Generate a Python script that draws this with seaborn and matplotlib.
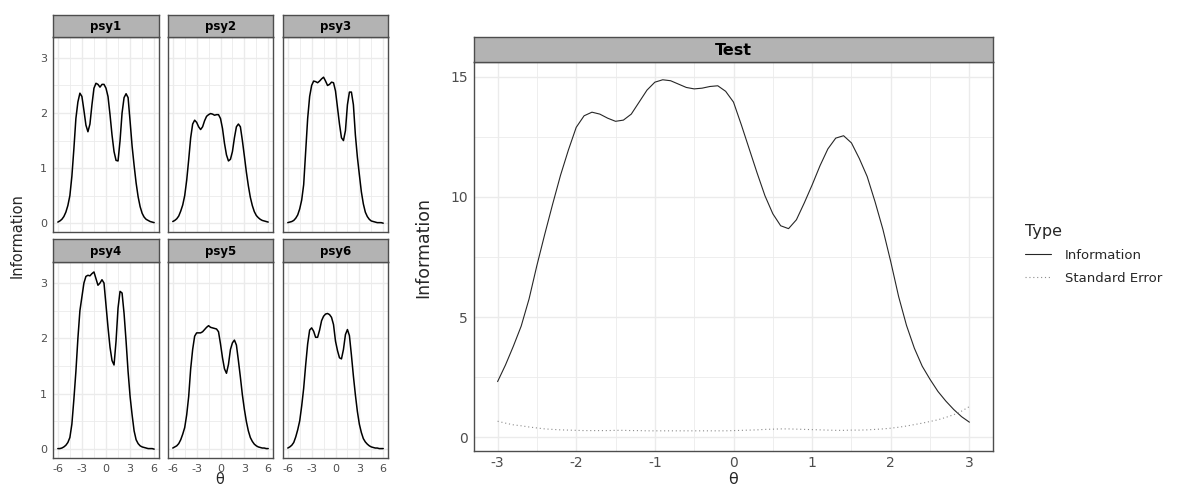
import numpy as np
import pandas as pd
import matplotlib
matplotlib.use('Agg')
import matplotlib.pyplot as plt
import seaborn as sns

# item information curves (theta -6..6, step 0.25)
items = ['psy1', 'psy2', 'psy3', 'psy4', 'psy5', 'psy6']
theta_items = np.linspace(-6, 6, 49)

psy1 = [0.02, 0.04, 0.07, 0.12, 0.20, 0.32, 0.50, 0.85, 1.35, 1.90, 2.20, 2.36, 2.30,
        2.05, 1.78, 1.66, 1.80, 2.15, 2.45, 2.54, 2.52, 2.47, 2.52, 2.52, 2.45,
        2.30, 1.97, 1.60, 1.30, 1.14, 1.13, 1.50, 2.00, 2.28, 2.35, 2.28, 1.85,
        1.40, 1.05, 0.73, 0.48, 0.30, 0.18, 0.11, 0.07, 0.05, 0.03, 0.02, 0.01]
psy2 = [0.03, 0.05, 0.08, 0.13, 0.22, 0.33, 0.50, 0.78, 1.15, 1.55, 1.80, 1.87, 1.83,
        1.75, 1.70, 1.75, 1.86, 1.94, 1.97, 1.99, 1.98, 1.96, 1.97, 1.97, 1.90,
        1.72, 1.45, 1.24, 1.13, 1.16, 1.30, 1.55, 1.75, 1.80, 1.75, 1.50, 1.22,
        0.93, 0.68, 0.47, 0.32, 0.21, 0.14, 0.10, 0.07, 0.05, 0.04, 0.03, 0.02]
psy3 = [0.01, 0.02, 0.03, 0.05, 0.09, 0.15, 0.26, 0.42, 0.70, 1.30, 1.90, 2.30, 2.50,
        2.58, 2.57, 2.55, 2.58, 2.62, 2.65, 2.58, 2.50, 2.52, 2.56, 2.55, 2.40,
        2.10, 1.80, 1.55, 1.50, 1.68, 2.15, 2.38, 2.38, 2.15, 1.60, 1.20, 0.88,
        0.57, 0.35, 0.20, 0.12, 0.07, 0.04, 0.03, 0.02, 0.01, 0.01, 0.01, 0.00]
psy4 = [0.01, 0.01, 0.02, 0.04, 0.07, 0.12, 0.21, 0.45, 0.90, 1.40, 2.00, 2.50, 2.75,
        3.00, 3.12, 3.14, 3.13, 3.17, 3.20, 3.08, 2.96, 3.00, 3.06, 3.00, 2.60,
        2.20, 1.84, 1.60, 1.52, 1.95, 2.55, 2.85, 2.82, 2.45, 1.95, 1.40, 0.95,
        0.62, 0.33, 0.17, 0.10, 0.06, 0.04, 0.03, 0.02, 0.01, 0.01, 0.01, 0.00]
psy5 = [0.02, 0.04, 0.06, 0.10, 0.17, 0.27, 0.39, 0.62, 0.95, 1.45, 1.80, 2.04, 2.10,
        2.10, 2.10, 2.12, 2.16, 2.20, 2.23, 2.20, 2.19, 2.18, 2.17, 2.12, 1.90,
        1.65, 1.45, 1.37, 1.53, 1.80, 1.92, 1.97, 1.88, 1.60, 1.30, 0.98, 0.72,
        0.50, 0.33, 0.21, 0.14, 0.09, 0.06, 0.04, 0.03, 0.02, 0.02, 0.01, 0.01]
psy6 = [0.02, 0.04, 0.07, 0.12, 0.22, 0.35, 0.51, 0.78, 1.10, 1.52, 1.90, 2.15, 2.19,
        2.13, 2.02, 2.02, 2.15, 2.32, 2.40, 2.44, 2.45, 2.43, 2.38, 2.25, 1.95,
        1.78, 1.65, 1.63, 1.80, 2.07, 2.16, 2.05, 1.70, 1.32, 0.98, 0.68, 0.45,
        0.30, 0.19, 0.13, 0.09, 0.06, 0.04, 0.03, 0.02, 0.02, 0.01, 0.01, 0.01]

# test information and standard error (theta -3..3, step 0.1)
theta_test = np.round(np.linspace(-3, 3, 61), 2)
test_info = [2.31, 3.00, 3.78, 4.62, 5.75, 7.15, 8.45, 9.70, 10.90, 11.95, 12.90,
             13.38, 13.53, 13.45, 13.28, 13.15, 13.20, 13.45, 13.95, 14.45, 14.78,
             14.88, 14.84, 14.70, 14.56, 14.50, 14.53, 14.60, 14.63, 14.40, 13.95,
             13.00, 12.00, 11.00, 10.05, 9.30, 8.80, 8.68, 9.05, 9.75, 10.50,
             11.30, 12.00, 12.45, 12.55, 12.25, 11.60, 10.85, 9.80, 8.65, 7.30,
             5.85, 4.65, 3.70, 2.95, 2.40, 1.90, 1.50, 1.15, 0.85, 0.62]
test_se = [0.66, 0.58, 0.51, 0.47, 0.42, 0.38, 0.34, 0.32, 0.30, 0.29, 0.28,
           0.27, 0.27, 0.27, 0.27, 0.28, 0.28, 0.27, 0.27, 0.26, 0.26,
           0.26, 0.26, 0.26, 0.26, 0.26, 0.26, 0.26, 0.26, 0.26, 0.27,
           0.28, 0.29, 0.30, 0.32, 0.33, 0.34, 0.34, 0.33, 0.32, 0.31,
           0.30, 0.29, 0.28, 0.28, 0.29, 0.29, 0.30, 0.32, 0.34, 0.37,
           0.41, 0.46, 0.52, 0.58, 0.65, 0.72, 0.82, 0.93, 1.08, 1.27]

df_items = pd.DataFrame({
    'theta': np.tile(theta_items, len(items)),
    'Information': psy1 + psy2 + psy3 + psy4 + psy5 + psy6,
    'item': np.repeat(items, len(theta_items)),
})
df_test = pd.DataFrame({
    'theta': np.concatenate([theta_test, theta_test]),
    'value': test_info + test_se,
    'Type': ['Information'] * len(test_info) + ['Standard Error'] * len(test_se),
})

sns.set_style('white')
plt.rcParams['font.family'] = ['DejaVu Sans']
plt.rcParams['axes.unicode_minus'] = False

W, H = 1179, 487
fig = plt.figure(figsize=(W / 100, H / 100), dpi=100)


def box(x0, y0, x1, y1):
    return [x0 / W, 1 - y1 / H, (x1 - x0) / W, (y1 - y0) / H]


grid_col = '#EBEBEB'
edge_col = '#4D4D4D'
strip_col = '#B3B3B3'
tick_col = '#4D4D4D'


def style_panel(ax):
    ax.set_facecolor('white')
    for s in ax.spines.values():
        s.set_visible(True)
        s.set_color(edge_col)
        s.set_linewidth(1.0)
    ax.grid(True, which='major', color=grid_col, linewidth=1.0)
    ax.grid(True, which='minor', color=grid_col, linewidth=0.6)
    ax.set_axisbelow(True)
    ax.set_xlabel('')
    ax.set_ylabel('')
    ax.tick_params(which='minor', length=0)
    ax.tick_params(which='major', length=2.75, width=0.6, pad=1.5,
                   color='#333333', labelcolor=tick_col)


def add_strip(x0, y0, x1, y1, label, size):
    sax = fig.add_axes(box(x0, y0, x1, y1))
    sax.set_facecolor(strip_col)
    sax.set_xticks([])
    sax.set_yticks([])
    for s in sax.spines.values():
        s.set_visible(True)
        s.set_color(edge_col)
        s.set_linewidth(1.0)
    sax.text(0.5, 0.47, label, ha='center', va='center', fontsize=size,
             fontweight='bold', color='black', transform=sax.transAxes)


# left: facets of item information
cols = [(53, 159), (168, 273), (283, 388)]
rows = [(15, 37, 232), (239, 262, 458)]
for i, name in enumerate(items):
    r, c = divmod(i, 3)
    x0, x1 = cols[c]
    st, top, bot = rows[r]
    ax = fig.add_axes(box(x0, top, x1, bot))
    sub = df_items[df_items['item'] == name]
    sns.lineplot(data=sub, x='theta', y='Information', color='black', linewidth=1.1, ax=ax)
    style_panel(ax)
    ax.set_xlim(-6.6, 6.6)
    ax.set_ylim(-0.16, 3.38)
    ax.set_xticks([-6, -3, 0, 3, 6])
    ax.set_xticks([-4.5, -1.5, 1.5, 4.5], minor=True)
    ax.set_yticks([0, 1, 2, 3])
    ax.set_yticks([0.5, 1.5, 2.5], minor=True)
    ax.tick_params(labelsize=8)
    if c != 0:
        ax.tick_params(axis='y', which='major', length=0, labelleft=False)
    if r == 0:
        ax.tick_params(axis='x', which='major', length=0, labelbottom=False)
    add_strip(x0, st, x1, top, name, 8.5)

fig.text(17 / W, 1 - 236 / H, 'Information', rotation=90, ha='center', va='center', fontsize=10.5)
fig.text(220 / W, 1 - 487 / H, 'θ', ha='center', va='bottom', fontsize=10.5)

# right: test information
axr = fig.add_axes(box(474, 62, 993, 451))
sns.lineplot(data=df_test, x='theta', y='value', hue='Type', style='Type',
             palette={'Information': '#262626', 'Standard Error': '#8C8C8C'},
             dashes={'Information': '', 'Standard Error': (1, 2.5)},
             linewidth=0.8, ax=axr)
style_panel(axr)
axr.set_xlim(-3.3, 3.3)
axr.set_ylim(-0.58, 15.62)
axr.set_xticks([-3, -2, -1, 0, 1, 2, 3])
axr.set_xticks([-2.5, -1.5, -0.5, 0.5, 1.5, 2.5], minor=True)
axr.set_yticks([0, 5, 10, 15])
axr.set_yticks([2.5, 7.5, 12.5], minor=True)
axr.tick_params(labelsize=10)
axr.tick_params(axis='x', pad=1)
add_strip(474, 37, 993, 62, 'Test', 11.5)

fig.text(423 / W, 1 - 247 / H, 'Information', rotation=90, ha='center', va='center', fontsize=12.5)
fig.text(733 / W, 1 - 487 / H, 'θ', ha='center', va='bottom', fontsize=11.5)

sns.move_legend(axr, 'upper left', bbox_to_anchor=((1025 - 474) / 519, (451 - 224) / 389),
                frameon=False, title='Type', fontsize=9.5, title_fontsize=11.5,
                alignment='left', handlelength=2.0, handletextpad=1.0,
                labelspacing=0.75, borderpad=0, borderaxespad=0)

fig.savefig('out.png', dpi=100)
